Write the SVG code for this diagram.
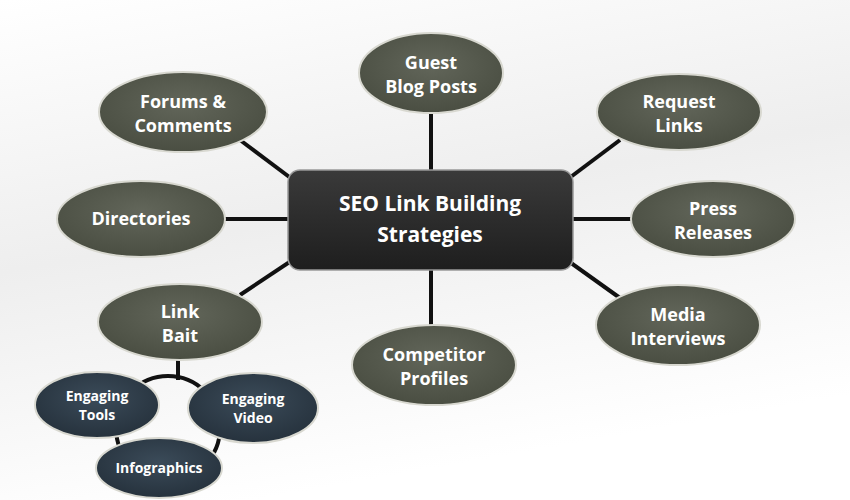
<svg xmlns="http://www.w3.org/2000/svg" width="850" height="500" viewBox="0 0 850 500">
<defs>
<linearGradient id="bg" x1="0" y1="0" x2="0.3" y2="1">
<stop offset="0" stop-color="#ffffff"/><stop offset="0.5" stop-color="#eeeeee"/><stop offset="1" stop-color="#ffffff"/>
</linearGradient>
<linearGradient id="ctr" x1="0" y1="0" x2="0" y2="1">
<stop offset="0" stop-color="#3a3a3a"/><stop offset="1" stop-color="#1e1e1e"/>
</linearGradient>
<radialGradient id="ol" cx="0.5" cy="0.4" r="0.6">
<stop offset="0" stop-color="#62665a"/><stop offset="1" stop-color="#4a4e42"/>
</radialGradient>
<radialGradient id="bl" cx="0.5" cy="0.4" r="0.6">
<stop offset="0" stop-color="#3b4b59"/><stop offset="1" stop-color="#26323d"/>
</radialGradient>
</defs>
<style>
.o{fill:url(#ol);stroke:#d8d8d0;stroke-width:2}
.b{fill:url(#bl);stroke:#d8d8d0;stroke-width:2}
.t{font-family:"Open Sans","DejaVu Sans",sans-serif;font-weight:bold;fill:#fff;text-anchor:middle}
.big{font-size:18px}.sm{font-size:14px}
.c line,.c circle{stroke:#111;stroke-width:4;fill:none}
</style>
<rect width="850" height="500" fill="url(#bg)"/>
<g class="c">
<line x1="431" y1="110" x2="431" y2="175"/>
<line x1="240" y1="140" x2="300" y2="185"/>
<line x1="620" y1="140" x2="560" y2="185"/>
<line x1="225" y1="219" x2="290" y2="219"/>
<line x1="570" y1="219" x2="632" y2="219"/>
<line x1="240" y1="295" x2="300" y2="255"/>
<line x1="620" y1="298" x2="560" y2="255"/>
<line x1="431" y1="265" x2="431" y2="328"/>
<line x1="178" y1="358" x2="178" y2="380"/>
<circle cx="168" cy="428" r="52"/>
</g>
<g id="center"><rect x="288" y="170" width="285" height="100" rx="12" fill="url(#ctr)" stroke="#999" stroke-width="1.5"/>
<text class="t" font-size="21" x="430" y="211">SEO Link Building</text><text class="t" font-size="21" x="430" y="242">Strategies</text></g>
<g id="guest"><ellipse class="o" cx="431" cy="73" rx="72" ry="40"/><text class="t big" x="431" y="69">Guest</text><text class="t big" x="431" y="93">Blog Posts</text></g>
<g id="forums"><ellipse class="o" cx="183" cy="112" rx="84" ry="40"/><text class="t big" x="183" y="108">Forums &amp;</text><text class="t big" x="183" y="132">Comments</text></g>
<g id="request"><ellipse class="o" cx="679" cy="112" rx="82" ry="38"/><text class="t big" x="679" y="108">Request</text><text class="t big" x="679" y="132">Links</text></g>
<g id="directories"><ellipse class="o" cx="141" cy="219" rx="84" ry="38"/><text class="t big" x="141" y="225">Directories</text></g>
<g id="press"><ellipse class="o" cx="713" cy="219" rx="82" ry="38"/><text class="t big" x="713" y="215">Press</text><text class="t big" x="713" y="239">Releases</text></g>
<g id="linkbait"><ellipse class="o" cx="180" cy="322" rx="82" ry="38"/><text class="t big" x="180" y="318">Link</text><text class="t big" x="180" y="342">Bait</text></g>
<g id="competitor"><ellipse class="o" cx="434" cy="365" rx="82" ry="40"/><text class="t big" x="434" y="361">Competitor</text><text class="t big" x="434" y="385">Profiles</text></g>
<g id="media"><ellipse class="o" cx="678" cy="325" rx="82" ry="40"/><text class="t big" x="678" y="321">Media</text><text class="t big" x="678" y="345">Interviews</text></g>
<g id="tools"><ellipse class="b" cx="97" cy="405" rx="62" ry="33"/><text class="t sm" x="97" y="401">Engaging</text><text class="t sm" x="97" y="420">Tools</text></g>
<g id="video"><ellipse class="b" cx="253" cy="408" rx="65" ry="35"/><text class="t sm" x="253" y="404">Engaging</text><text class="t sm" x="253" y="423">Video</text></g>
<g id="infographics"><ellipse class="b" cx="159" cy="468" rx="63" ry="30"/><text class="t sm" x="159" y="473">Infographics</text></g>
</svg>
